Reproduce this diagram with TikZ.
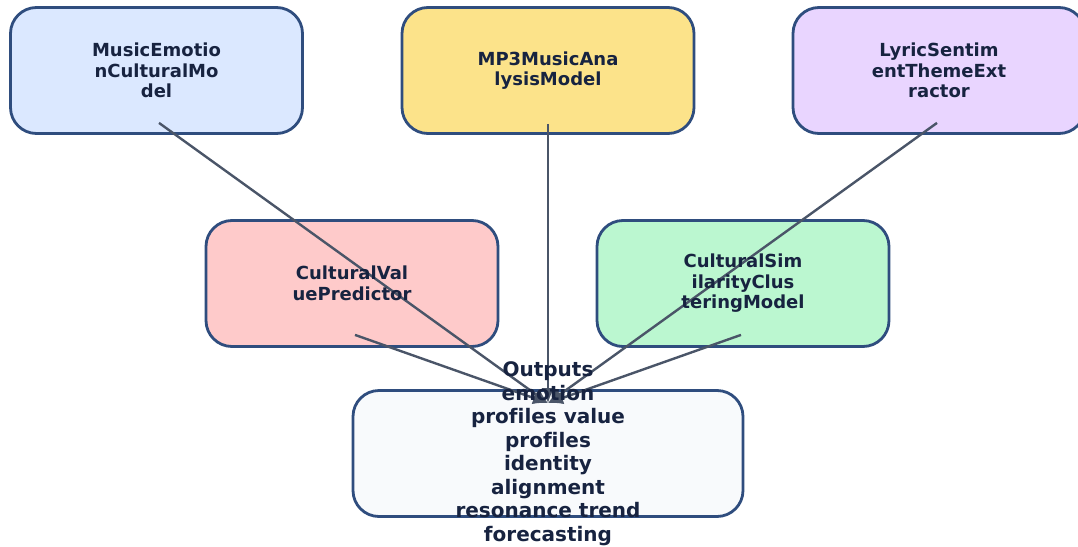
\documentclass[tikz,border=0pt]{standalone}
\usepackage{fontspec}
\setmainfont{DejaVu Sans}[Ligatures=NoCommon]
\usetikzlibrary{calc,arrows.meta}

\definecolor{edgeblue}{HTML}{2F4D7E}
\definecolor{linkgray}{HTML}{4A5568}
\definecolor{inkdark}{HTML}{172340}
\definecolor{fillblue}{HTML}{DBE8FF}
\definecolor{fillyellow}{HTML}{FCE38A}
\definecolor{filllilac}{HTML}{E9D5FF}
\definecolor{fillpink}{HTML}{FECACA}
\definecolor{fillgreen}{HTML}{BBF7D0}
\definecolor{fillpale}{HTML}{F8FAFC}

\tikzset{
  panel/.style={draw=edgeblue, line width=2.8pt, rounded corners=26pt,
    minimum width=292pt, minimum height=126pt, inner sep=0pt},
  caption/.style={text=inkdark, align=center, inner sep=0pt,
    font=\bfseries\fontsize{18}{20.5}\selectfont},
  bigcaption/.style={caption, font=\bfseries\fontsize{20}{23.5}\selectfont},
  link/.style={draw=linkgray, line width=2.4pt,
    -{Latex[length=15pt,width=13pt]}}
}

\begin{document}
\begin{tikzpicture}[x=1pt,y=-1pt]
\clip (0,0) rectangle (1078,546);
\fill[white] (0,0) rectangle (1078,546);

% boxes
\node[panel, fill=fillblue]   (mec) at (156.5,70.5) {};
\node[panel, fill=fillyellow] (mp3) at (548,70.5)   {};
\node[panel, fill=filllilac]  (lyr) at (939,70.5)   {};
\node[panel, fill=fillpink]   (cvp) at (352,283.5)  {};
\node[panel, fill=fillgreen]  (csc) at (743,283.5)  {};
\node[panel, fill=fillpale, minimum width=390pt] (out) at (548,453.5) {};

% links into the output box
\coordinate (hub) at ($(out.north)+(0,14)$);
\draw[link] ($(mec.south)+(2.5,-12)$) -- (hub);
\draw[link] ($(mp3.south)+(0,-11)$)   -- (hub);
\draw[link] ($(lyr.south)+(-2,-12)$)  -- (hub);
\draw[link] ($(cvp.south)+(3,-13)$)   -- (hub);
\draw[link] ($(csc.south)+(-2,-13)$)  -- (hub);

% labels
\node[caption] at (mec) {MusicEmotio\\nCulturalMo\\del};
\node[caption] at (mp3) {MP3MusicAna\\lysisModel};
\node[caption] at (lyr) {LyricSentim\\entThemeExt\\ractor};
\node[caption] at (cvp) {CulturalVal\\uePredictor};
\node[caption] at (csc) {CulturalSim\\ilarityClus\\teringModel};
\node[bigcaption] at (out) {Outputs\\emotion\\profiles value\\profiles\\identity\\alignment\\resonance trend\\forecasting};
\end{tikzpicture}
\end{document}
